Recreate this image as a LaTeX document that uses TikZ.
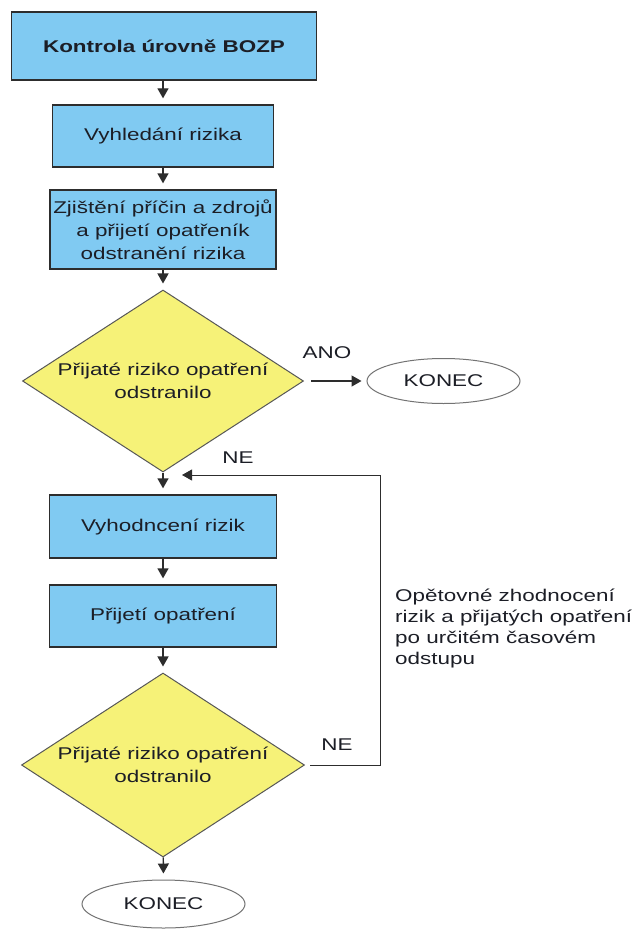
\documentclass[tikz,border=0pt]{standalone}
\usepackage{fontspec}
\setmainfont[FakeStretch=1.32]{Liberation Sans}
\usetikzlibrary{shapes.geometric,arrows.meta}
\definecolor{boxblue}{RGB}{128,202,242}
\definecolor{dyellow}{RGB}{246,242,120}
\definecolor{linegray}{RGB}{45,45,45}
\definecolor{txt}{RGB}{28,30,38}
\begin{document}
\begin{tikzpicture}[x=1pt,y=-1pt,
  every node/.style={font=\fontsize{17}{23}\selectfont, text=txt},
  procbox/.style={draw=linegray, line width=1.3pt, fill=boxblue, rectangle, inner sep=0pt, align=center},
  decbox/.style={draw=linegray!80, line width=1pt, fill=dyellow, diamond, inner sep=0pt},
  endbox/.style={draw=gray!90!black, line width=1pt, fill=white, ellipse, inner sep=0pt},
  arr/.style={draw=linegray, line width=1.3pt, -{Triangle[length=10pt,width=11pt]}, shorten >=6pt},
  lbl/.style={inner sep=0pt, align=center}]
\useasboundingbox (0,0) rectangle (638,931);

\node[procbox, minimum width=305pt, minimum height=68pt] (b1) at (164,46) {\textbf{Kontrola úrovně BOZP}};
\node[procbox, minimum width=221pt, minimum height=62pt] (b2) at (163,136) {Vyhledání rizika};
\node[procbox, minimum width=226pt, minimum height=79pt] (b3) at (163,229.5) {Zjištění příčin a zdrojů\\a přijetí opatřeník\\odstranění rizika};
\node[decbox, minimum width=281pt, minimum height=182pt] (d1) at (163,381) {};
\node[lbl] (t1) at (d1.center) {Přijaté riziko opatření\\odstranilo};
\node[endbox, minimum width=153pt, minimum height=45pt] (e1) at (443.5,381) {KONEC};
\node[procbox, minimum width=227pt, minimum height=63pt] (b4) at (163,526.5) {Vyhodncení rizik};
\node[procbox, minimum width=227pt, minimum height=62pt] (b5) at (163,616) {Přijetí opatření};
\node[decbox, minimum width=283pt, minimum height=184pt] (d2) at (163,765) {};
\node[lbl] (t2) at (d2.center) {Přijaté riziko opatření\\odstranilo};
\node[endbox, minimum width=163pt, minimum height=48pt] (e2) at (163.5,904) {KONEC};

\node[lbl] (ano) at (327,353) {ANO};
\node[lbl] (ne1) at (238,458) {NE};
\node[lbl] (ne2) at (337,745) {NE};
\node[inner sep=0pt, align=left, anchor=west, font=\fontsize{17}{21}\selectfont] (note) at (395,628.5) {Opětovné zhodnocení\\rizik a přijatých opatření\\po určitém časovém\\odstupu};

\coordinate (rt) at (380,475);
\coordinate (fb) at (182,475);

\draw[arr] (b1.south -| b2.north) -- (b2.north);
\draw[arr] (b2) -- (b3);
\draw[arr] (b3) -- (d1);
\draw[arr] (d1) -- (b4);
\draw[arr] (b4) -- (b5);
\draw[arr] (b5) -- (d2);
\draw[arr] (d2) -- (e2);
\draw[arr, shorten <=7pt, shorten >=5pt] (d1.east) -- (e1.west);
\draw[arr, line width=1pt, shorten <=5pt, shorten >=0pt] (d2.east) -- (d2.east -| rt) -- (rt) -- (fb);
\end{tikzpicture}
\end{document}
